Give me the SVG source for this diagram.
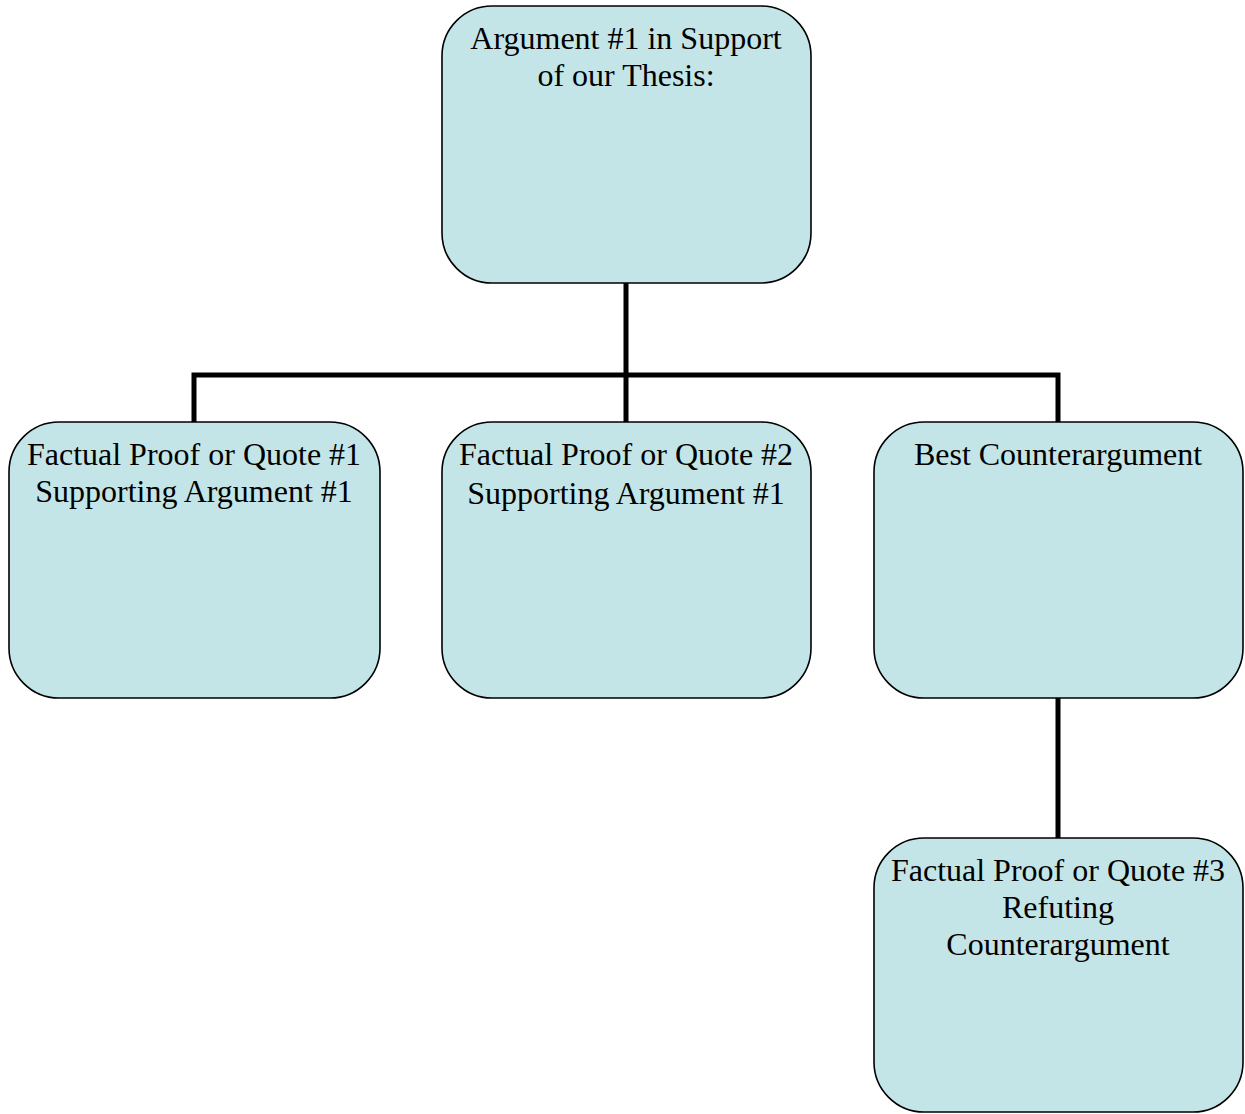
<svg xmlns="http://www.w3.org/2000/svg" width="1245" height="1114" viewBox="0 0 1245 1114">
<style>
.box{fill:#C4E5E8;stroke:#000;stroke-width:1.6}
.t{font-family:"Liberation Serif","Times New Roman",serif;font-size:32px;fill:#000;text-anchor:middle}
.c{fill:none;stroke:#000;stroke-width:5}
</style>
<rect width="1245" height="1114" fill="#fff"/>
<g id="connectors">
<path class="c" d="M626 283 V375 M194 422 V375 H1058 V422 M626 375 V422"/>
<path class="c" d="M1058 698 V838"/>
</g>
<g id="n-argument">
<rect class="box" x="442" y="6" width="369" height="277" rx="50"/>
<text class="t" x="626" y="49">Argument #1 in Support</text>
<text class="t" x="626" y="86">of our Thesis:</text>
</g>
<g id="n-proof1">
<rect class="box" x="9" y="422" width="371" height="276" rx="50"/>
<text class="t" x="194" y="465">Factual Proof or Quote #1</text>
<text class="t" x="194" y="502">Supporting Argument #1</text>
</g>
<g id="n-proof2">
<rect class="box" x="442" y="422" width="369" height="276" rx="50"/>
<text class="t" x="626" y="465">Factual Proof or Quote #2</text>
<text class="t" x="626" y="504">Supporting Argument #1</text>
</g>
<g id="n-counter">
<rect class="box" x="874" y="422" width="369" height="276" rx="50"/>
<text class="t" x="1058" y="465">Best Counterargument</text>
</g>
<g id="n-proof3">
<rect class="box" x="874" y="838" width="369" height="274" rx="50"/>
<text class="t" x="1058" y="881">Factual Proof or Quote #3</text>
<text class="t" x="1058" y="918">Refuting</text>
<text class="t" x="1058" y="955">Counterargument</text>
</g>
</svg>
